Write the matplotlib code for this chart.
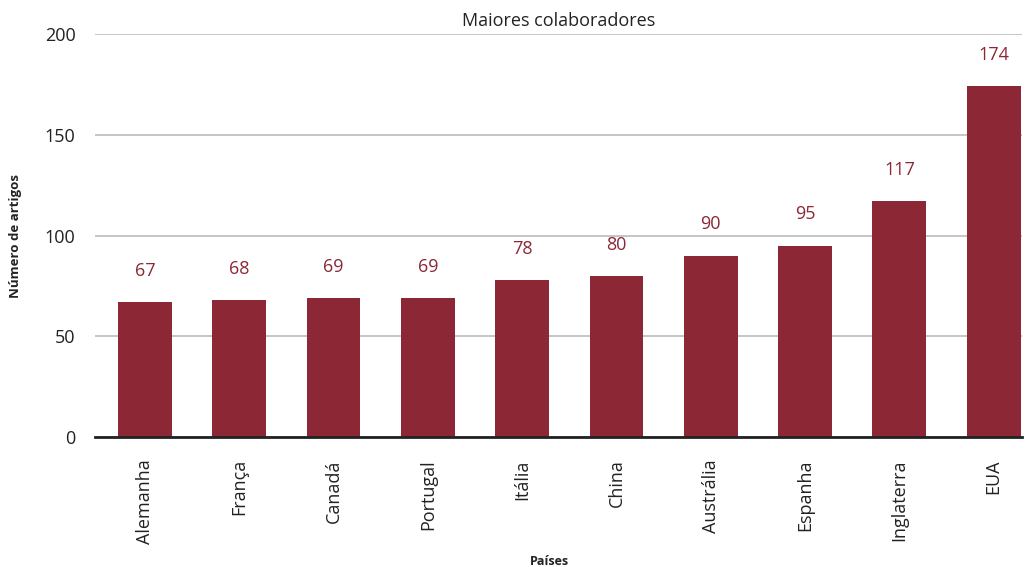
import matplotlib.pyplot as plt
import numpy as np

plt.rcParams['font.family'] = ['Open Sans', 'DejaVu Sans']

paises = ["Alemanha", "França", "Canadá", "Portugal", "Itália", "China",
          "Austrália", "Espanha", "Inglaterra", "EUA"]
artigos = [67, 68, 69, 69, 78, 80, 90, 95, 117, 174]
yticks = [0, 50, 100, 150, 200]

bar_color = "#8C2836"

fig = plt.figure(figsize=(10.35, 5.67), dpi=100)
ax = fig.add_axes([0.0918, 0.2293, 0.8956, 0.7107])

x = np.arange(len(paises))
bars = ax.bar(x, artigos, width=0.57, color=bar_color, zorder=3)

for xi, v in zip(x, artigos):
    ax.annotate(str(v), (xi, v), xytext=(0, 16), textcoords='offset points',
                ha='center', va='bottom', fontsize=13, color=bar_color)

ax.set_xlim(-0.53, 9.3)
ax.set_ylim(0, 200)
ax.set_yticks(yticks)
ax.set_xticks(x)
ax.set_xticklabels(paises, rotation=90, fontsize=13, color='#222222')
ax.tick_params(axis='y', labelsize=13, colors='#222222', length=0, pad=14)
ax.tick_params(axis='x', length=0, pad=16)

ax.grid(axis='y', color='#BBBBBB', linewidth=1.2, zorder=0)
for s in ['top', 'right', 'left']:
    ax.spines[s].set_visible(False)
ax.spines['bottom'].set_color('#222222')
ax.spines['bottom'].set_linewidth(2)
ax.spines['bottom'].set_zorder(4)

ax.set_title('Maiores colaboradores', fontsize=13, color='#222222', pad=6)
ax.set_xlabel('Países', fontsize=9, fontweight='bold', color='#222222')
ax.xaxis.set_label_coords(0.49, -0.293)
ax.set_ylabel('Número de artigos', fontsize=9.5, fontweight='bold', color='#222222')
ax.yaxis.set_label_coords(-0.079, 0.5)

fig.savefig('out.png', dpi=100)
